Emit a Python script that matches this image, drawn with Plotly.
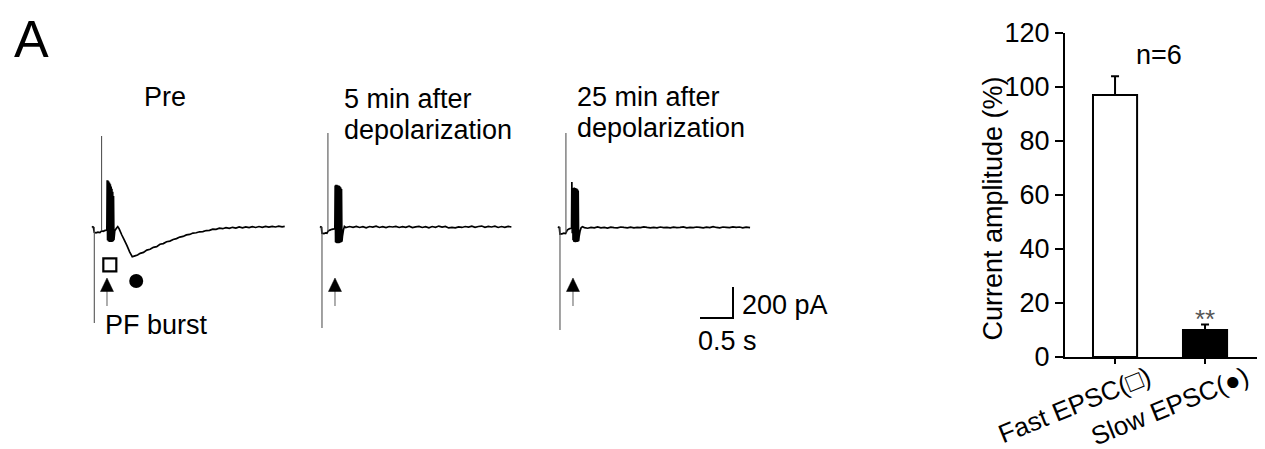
import numpy as np
import plotly.graph_objects as go

W, H = 1265, 449
OFF = 8  # page body margin of the html page
def px(x):
    return (x - OFF) / W
def py(y):
    return 1 - (y - OFF) / H

FONT = "Liberation Sans, Arial, sans-serif"
FS = 27

# ---------------- data ----------------
panel_titles = [["Pre"], ["5 min after", "depolarization"], ["25 min after", "depolarization"]]
scale_bar_t = 0.5      # s
scale_bar_i = 200      # pA
stim_label = "PF burst"
stim_time = 0.227      # s (PF burst onset, arrow)

# Pre recording (time s, current pA)
pre_t = [0.00, 0.01, 0.02, 0.035, 0.06, 0.09, 0.12, 0.145, 0.17, 0.20, 0.225,
         0.230, 0.236, 0.242, 0.248, 0.254, 0.260, 0.266, 0.272, 0.278, 0.284,
         0.290, 0.296, 0.302, 0.308, 0.314, 0.320, 0.326, 0.332,
         0.345, 0.37, 0.39, 0.41, 0.45, 0.49, 0.53, 0.57, 0.61, 0.65, 0.69, 0.73,
         0.78, 0.83, 0.88, 0.93, 0.98, 1.03, 1.08, 1.13, 1.18, 1.23, 1.28, 1.33,
         1.38, 1.43, 1.48, 1.53, 1.58, 1.63, 1.68, 1.73, 1.78, 1.83, 1.88, 1.93,
         1.98, 2.03, 2.08, 2.13, 2.18, 2.23, 2.28, 2.33, 2.38, 2.43, 2.48, 2.53,
         2.58, 2.63, 2.68, 2.73, 2.78, 2.83, 2.88, 2.92]
pre_i = [4, 0, 0, -35, -38, -33, -36, -25, -28, -22, -20,
         302, -85, 300, -92, 294, -95, 286, -97, 276, -97,
         262, -97, 246, -95, 228, -92, 200, -85,
         -25, -8, 2, -10, -50, -85, -120, -160, -192, -186, -181, -170,
         -164, -149, -144, -131, -127, -111, -107, -95, -91, -81, -75, -65,
         -61, -51, -48, -39, -37, -31, -30, -23, -22, -14, -15, -8,
         -11, -4, -9, -2, -7, 0, -5, 1, -4, 2, -3, 3,
         -2, 4, -1, 4, 0, 6, 1, 4]

# 5 min after depolarization
m5_t = [0.00, 0.01, 0.02, 0.03, 0.06, 0.085, 0.105, 0.125, 0.15, 0.18, 0.21, 0.225,
        0.230, 0.236, 0.242, 0.248, 0.254, 0.260, 0.266, 0.272, 0.278, 0.284,
        0.290, 0.296, 0.302, 0.308, 0.314, 0.320, 0.326, 0.332,
        0.34, 0.355, 0.37, 0.39,
        0.45, 0.50, 0.55, 0.60, 0.65, 0.70, 0.75, 0.80, 0.85, 0.90, 0.95, 1.00,
        1.05, 1.10, 1.15, 1.20, 1.25, 1.30, 1.35, 1.40, 1.45, 1.50, 1.55, 1.60,
        1.65, 1.70, 1.75, 1.80, 1.85, 1.90, 1.95, 2.00, 2.05, 2.10, 2.15, 2.20,
        2.25, 2.30, 2.35, 2.40, 2.45, 2.50, 2.55, 2.60, 2.65, 2.70, 2.75, 2.80,
        2.85, 2.90]
m5_i = [3, 0, 0, -40, -42, -38, -40, -25, -20, -15, -12, -10,
        268, -98, 272, -103, 272, -105, 270, -105, 268, -104,
        266, -103, 262, -100, 255, -98, 245, -95,
        -60, -20, 4, -3,
        3, -2, 4, -3, 2, -5, 3, -1, 5, -3, 2, -4,
        3, 0, 4, -3, 2, -2, 5, -4, 1, 4, -3, 2,
        -5, 3, -2, 6, -1, 4, -6, -2, -5, 1, -3, 3,
        -1, 5, -2, 3, 6, -2, 4, 0, 5, -3, 3, -2,
        4, 0]

# 25 min after depolarization
m25_t = [0.00, 0.01, 0.02, 0.03, 0.06, 0.09, 0.115, 0.14, 0.17, 0.195, 0.205,
         0.210, 0.216, 0.222, 0.228, 0.234, 0.240, 0.246, 0.252, 0.258, 0.264,
         0.270, 0.276, 0.282, 0.288, 0.294, 0.300, 0.306, 0.312,
         0.32, 0.335, 0.35, 0.37, 0.40,
         0.45, 0.50, 0.55, 0.60, 0.65, 0.70, 0.75, 0.80, 0.85, 0.90, 0.95, 1.00,
         1.05, 1.10, 1.15, 1.20, 1.25, 1.30, 1.35, 1.40, 1.45, 1.50, 1.55, 1.60,
         1.65, 1.70, 1.75, 1.80, 1.85, 1.90, 1.95, 2.00, 2.05, 2.10, 2.15, 2.20,
         2.25, 2.30, 2.35, 2.40, 2.45, 2.50, 2.55, 2.60, 2.65, 2.70, 2.75, 2.80,
         2.85, 2.91]
m25_i = [2, -2, -2, -45, -44, -40, -42, -20, -12, -8, -6,
         290, -40, 210, -85, 252, -95, 255, -97, 252, -98,
         250, -97, 248, -97, 244, -95, 236, -92,
         -60, -25, -5, 2, -4,
         -8, -3, -6, 0, -5, -2, -7, -1, -4, -6, 0, -3,
         -5, -1, -6, -2, -4, 1, -3, -6, -2, -5, 0, -4,
         -2, -6, -1, -4, -3, 1, -5, -2, -4, 0, -3, -6,
         -1, -4, 2, -3, -5, 0, -2, -4, 1, -3, 0, -5,
         -1, -4]

rec_t = [pre_t, m5_t, m25_t]
rec_i = [pre_i, m5_i, m25_i]
art_down_t = [0.035, 0.03, 0.03]
art_down_min = [-620, -651, -664]
art_up_t = [0.145, 0.12, 0.12]
art_up_max = [587, 606, 606]

fast_marker = (0.27, -245)    # open square (fast EPSC) in Pre
slow_marker = (0.67, -348)    # filled circle (slow EPSC) in Pre

# Bar chart data
bar_labels = ["Fast EPSC(\u25a1)", "Slow EPSC(\u25cf)"]
bar_values = [97, 10]
bar_sem = [7, 2]
bar_n_text = "n=6"
bar_sig = ["", "**"]
y_ticks = [0, 20, 40, 60, 80, 100, 120]
y_title = "Current amplitude (%)"

# ---------------- layout geometry ----------------
PX_PER_S = 66.0
PX_PER_PA = 31.0 / 200
BASE_Y = 227.0
Y_RANGE = [-800, 700]
X_RANGE = [-0.2, 3.0]
starts = [92, 320, 558]
BAR_X_RANGE = [-0.556, 1.633]
BAR_PX_PER_UNIT = 90.0
label_shift_px = [33, 41]     # rotated labels sit right of their ticks

def i_at(ypix):
    return (BASE_Y - ypix) / PX_PER_PA

fig = go.Figure()

xnames = ["x", "x2", "x3"]
for k in range(3):
    fig.add_trace(go.Scatter(x=rec_t[k], y=rec_i[k], mode="lines",
                             line=dict(color="black", width=1.7, simplify=False),
                             xaxis=xnames[k], yaxis="y", showlegend=False,
                             hoverinfo="skip"))
    base_u = float(np.interp(art_up_t[k], rec_t[k], rec_i[k]))
    fig.add_trace(go.Scatter(x=[art_down_t[k], art_down_t[k], None, art_up_t[k], art_up_t[k]],
                             y=[0, art_down_min[k], None, base_u, art_up_max[k]],
                             mode="lines", line=dict(color="#555555", width=1.1),
                             xaxis=xnames[k], yaxis="y", showlegend=False,
                             hoverinfo="skip"))

# markers in Pre
fig.add_trace(go.Scatter(x=[fast_marker[0]], y=[fast_marker[1]], mode="markers",
                         marker=dict(symbol="square-open", size=13, color="black",
                                     line=dict(width=2.2, color="black")),
                         xaxis="x", yaxis="y", showlegend=False, hoverinfo="skip"))
fig.add_trace(go.Scatter(x=[slow_marker[0]], y=[slow_marker[1]], mode="markers",
                         marker=dict(symbol="circle", size=14, color="black"),
                         xaxis="x", yaxis="y", showlegend=False, hoverinfo="skip"))

# bar chart
fig.add_trace(go.Bar(x=[0, 1], y=bar_values, width=0.49,
                     marker=dict(color=["white", "black"], line=dict(color="black", width=2)),
                     error_y=dict(type="data", array=bar_sem, arrayminus=[0, 0], symmetric=False,
                                  color="black", thickness=2, width=4),
                     xaxis="x4", yaxis="y2", showlegend=False, hoverinfo="skip"))

shapes = []
annotations = []

# arrows under traces
hw = 6.5 / PX_PER_S
for k in range(3):
    xr = xnames[k]
    shapes.append(dict(type="line", xref=xr, yref="y", x0=stim_time, x1=stim_time,
                       y0=i_at(306), y1=i_at(291), line=dict(color="#9a9a9a", width=1.6)))
    path = "M %f,%f L %f,%f L %f,%f Z" % (stim_time - hw, i_at(291.5), stim_time + hw, i_at(291.5),
                                         stim_time, i_at(278))
    shapes.append(dict(type="path", xref=xr, yref="y", path=path,
                       fillcolor="black", line=dict(color="black", width=0.5)))

# scale bar in the 25 min panel coordinates
t_c = (733 - starts[2]) / PX_PER_S
i_c = i_at(318)
shapes.append(dict(type="path", xref="x3", yref="y",
                   path="M %f,%f L %f,%f L %f,%f" % (t_c - scale_bar_t, i_c, t_c, i_c, t_c, i_c + scale_bar_i),
                   line=dict(color="black", width=2)))

def txt(text, x, ytop, size=FS, xanchor="left", color="black"):
    annotations.append(dict(text=text, x=px(x), y=py(ytop), xref="paper", yref="paper",
                            xanchor=xanchor, yanchor="top", showarrow=False,
                            font=dict(family=FONT, size=size, color=color)))

txt("A", 12, 8, size=52)
title_left = [142, 342, 575]
title_tops = [[79.6], [81.6, 112.6], [79.6, 110.6]]
for k in range(3):
    for line, top in zip(panel_titles[k], title_tops[k]):
        txt(line, title_left[k], top)
txt(stim_label, 103, 307.6)
txt("%d pA" % scale_bar_i, 740, 287.6)
txt("%g s" % scale_bar_t, 696, 323.6)
txt(bar_n_text, 1134, 37.6)
txt(bar_sig[1], 1205, 302, size=26, xanchor="center", color="#555555")

# y title
annotations.append(dict(text=y_title, x=px(992), y=py(208.5), xref="paper", yref="paper",
                        xanchor="center", yanchor="middle", showarrow=False, textangle=-90,
                        font=dict(family=FONT, size=FS, color="black")))

ydom = [py(BASE_Y - Y_RANGE[0] * PX_PER_PA), py(BASE_Y - Y_RANGE[1] * PX_PER_PA)]
label_vals = [i + s / BAR_PX_PER_UNIT for i, s in enumerate(label_shift_px)]
layout = dict(
    width=W, height=H, margin=dict(l=0, r=0, t=0, b=0, pad=0, autoexpand=False),
    paper_bgcolor="white", plot_bgcolor="rgba(0,0,0,0)",
    showlegend=False, shapes=shapes, annotations=annotations,
    yaxis=dict(domain=ydom, range=Y_RANGE, visible=False, anchor="x", automargin=False),
    xaxis4=dict(domain=[px(1065), px(1262)], range=BAR_X_RANGE, anchor="y2", automargin=False,
                showline=True, linecolor="black", linewidth=2, showgrid=False, zeroline=False,
                tickvals=[0, 1], ticktext=["", ""], ticks="outside", ticklen=5, tickwidth=1.5,
                tickcolor="black"),
    xaxis5=dict(domain=[px(1065), px(1262)], range=BAR_X_RANGE, anchor="y2", overlaying="x4",
                automargin=False, showline=False, showgrid=False, zeroline=False,
                tickvals=label_vals, ticktext=bar_labels, ticks="", tickangle=-22,
                tickfont=dict(family=FONT, size=26, color="black")),
    yaxis2=dict(domain=[py(357), py(33)], range=[0, 120], anchor="x4", automargin=False,
                showline=True, linecolor="black", linewidth=2, showgrid=False, zeroline=False,
                tickvals=y_ticks, ticks="outside", ticklen=8, tickwidth=2, tickcolor="black",
                tickfont=dict(family=FONT, size=FS, color="black")),
)
for k in range(3):
    name = "xaxis" if k == 0 else "xaxis%d" % (k + 1)
    s = starts[k]
    layout[name] = dict(domain=[px(s + X_RANGE[0] * PX_PER_S), px(s + X_RANGE[1] * PX_PER_S)],
                        range=X_RANGE, visible=False, anchor="y", automargin=False)
fig.update_layout(**layout)
# invisible trace so the label axis is drawn
fig.add_trace(go.Scatter(x=[None], y=[None], xaxis="x5", yaxis="y2", showlegend=False,
                         hoverinfo="skip"))

fig.write_html("out.html")
